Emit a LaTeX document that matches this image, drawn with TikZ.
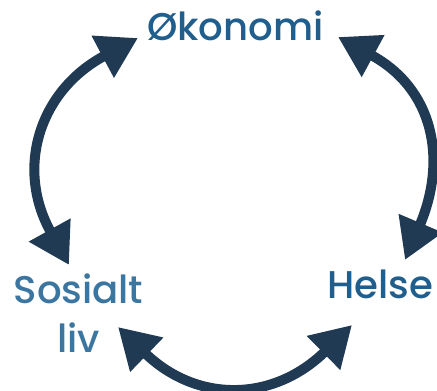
\documentclass[tikz,border=0pt]{standalone}
\usepackage{fontspec}
\setmainfont{Poppins Medium}
\usetikzlibrary{arrows.meta}
\definecolor{textblue}{HTML}{1F5E8D}
\definecolor{lightblue}{HTML}{3A76A0}
\definecolor{arrownavy}{HTML}{1F3A52}

\begin{document}
\begin{tikzpicture}[x=0.02cm, y=0.02cm,
        label/.style={font=\fontsize{22}{28}\selectfont, text=textblue, inner sep=0pt, anchor=base},
        link/.style={arrownavy, line width=0.2cm,
            {Triangle[length=0.8cm,width=0.9cm]}-{Triangle[length=0.8cm,width=0.9cm]}}]
        \useasboundingbox (0,0) rectangle (437,391);
        \node[label] (oko) at (235.5,350) {Økonomi};
        \node[label, text=lightblue, align=center] (sos) at (78.5,38) {Sosialt\\liv};
        \node[label] (hel) at (380,92) {Helse};
        % arrow ends
        \coordinate (okoL) at (138,353);
        \coordinate (okoR) at (338,354);
        \coordinate (sosT) at (69,126);
        \coordinate (sosR) at (118,64);
        \coordinate (helT) at (405,131);
        \coordinate (helL) at (352,66);
        \draw[link] (okoL) to[out=208, in=119, looseness=1.2] (sosT);
        \draw[link] (okoR) to[out=-28.5, in=67, looseness=1.2] (helT);
        \draw[link] (sosR) to[out=-44, in=224.5, looseness=1.2] (helL);
    \end{tikzpicture}
\end{document}
